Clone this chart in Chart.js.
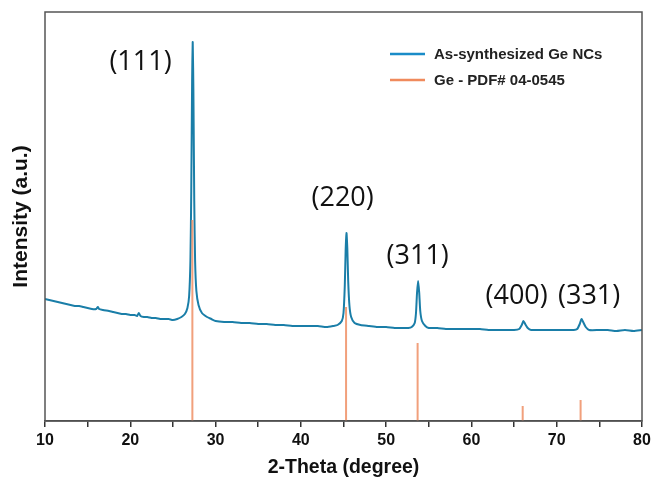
<!DOCTYPE html>
<html>
<head>
<meta charset="utf-8">
<script src="https://cdn.jsdelivr.net/npm/chart.js@4.4.1/dist/chart.umd.min.js"></script>
<style>
  html, body { margin: 0; padding: 0; background: #fff; }
  #wrap { width: 651px; height: 479px; }
</style>
</head>
<body>
<div id="wrap"><canvas id="xrd"></canvas></div>
<script>
// measured pattern (2-theta, intensity a.u.)
const twoTheta = [
  10.0, 10.5, 11.0, 11.5, 12.0, 12.5, 13.0, 13.5, 14.0, 14.5, 15.0, 15.5, 16.0, 16.2, 16.35, 16.8,
  17.5, 18.0, 18.5, 19.0, 19.5, 20.0, 20.5, 20.8, 21.0, 21.2, 21.6, 22.0, 22.5, 23.0, 23.5, 24.0,
  24.5, 25.0, 25.5, 26.0, 26.4, 26.7, 26.9, 27.05, 27.15, 27.25, 27.32, 27.4, 27.5, 27.6, 27.75, 28.0,
  28.4, 29.0, 29.5, 30.0, 31.0, 32.0, 33.0, 34.0, 35.0, 36.0, 37.0, 38.0, 39.0, 40.0, 41.0, 42.0,
  43.0, 43.8, 44.3, 44.8, 45.0, 45.15, 45.25, 45.35, 45.45, 45.55, 45.7, 45.9, 46.3, 47.0, 48.0, 49.0,
  50.0, 51.0, 52.0, 52.6, 53.0, 53.35, 53.5, 53.62, 53.75, 53.88, 54.0, 54.2, 54.6, 55.0, 56.0, 57.0,
  58.0, 59.0, 60.0, 61.0, 62.0, 63.0, 64.0, 65.0, 65.6, 65.9, 66.1, 66.3, 66.6, 67.0, 68.0, 69.0,
  70.0, 71.0, 72.0, 72.4, 72.7, 72.9, 73.1, 73.4, 73.8, 75.0, 76.0, 77.0, 78.0, 79.0, 80.0
];
const intensity = [
  122, 121, 120, 119, 118, 117, 116, 115, 115, 114, 113, 112, 112, 114, 112, 111,
  110, 109, 108, 107, 107, 106, 106, 105, 108, 105, 104, 104, 103, 103, 102, 102,
  102, 101, 102, 104, 107, 113, 125, 160, 230, 340, 379, 330, 220, 160, 130, 116,
  108, 104, 102, 100, 99, 99, 98, 98, 97, 97, 96, 96, 95, 95, 95, 95,
  94, 95, 96, 100, 108, 135, 170, 188, 172, 140, 115, 104, 98, 96, 95, 94,
  94, 93, 93, 93, 94, 98, 108, 128, 140, 128, 110, 100, 95, 93, 93, 92,
  92, 92, 92, 92, 91, 91, 91, 91, 92, 96, 100, 97, 93, 91, 91, 91,
  91, 91, 91, 92, 97, 102, 99, 94, 91, 91, 91, 90, 91, 90, 91
];

// reference card Ge - PDF# 04-0545
const refPeaks = [27.28, 45.30, 53.69, 66.01, 72.80];
const refHeights = [201, 114, 78, 15, 21];

// peak labels (anchored in data coordinates)
const hklLabels = ['(111)', '(220)', '(311)', '(400)', '(331)'];
const hklX = [21.2, 44.9, 53.7, 65.3, 73.8];
const hklY = [359, 223, 165, 125, 125];

const seriesNames = ['As-synthesized Ge NCs', 'Ge - PDF# 04-0545'];

const measured = twoTheta.map((t, i) => ({ x: t, y: intensity[i] }));
const sticks = [];
refPeaks.forEach((p, i) => {
  sticks.push({ x: p, y: 0 }, { x: p, y: refHeights[i] }, { x: p, y: null });
});

const framePlugin = {
  id: 'frame',
  afterDraw(chart) {
    const { ctx, chartArea: a } = chart;
    ctx.save();
    ctx.strokeStyle = '#555';
    ctx.lineWidth = 1.5;
    ctx.strokeRect(a.left, a.top, a.right - a.left, a.bottom - a.top);
    ctx.restore();
  }
};

const hklPlugin = {
  id: 'hkl',
  afterDatasetsDraw(chart) {
    const { ctx, scales } = chart;
    ctx.save();
    ctx.font = '27px "Open Sans"';
    ctx.fillStyle = '#111';
    ctx.textAlign = 'center';
    ctx.textBaseline = 'middle';
    hklLabels.forEach((txt, i) => {
      ctx.fillText(txt, scales.x.getPixelForValue(hklX[i]), scales.y.getPixelForValue(hklY[i]));
    });
    ctx.restore();
  }
};

// legend drawn inside the plot, top right
const insideLegend = {
  id: 'insideLegend',
  afterDatasetsDraw(chart) {
    const { ctx } = chart;
    ctx.save();
    ctx.font = 'bold 15px "Liberation Sans", Arial, sans-serif';
    ctx.textBaseline = 'middle';
    chart.data.datasets.forEach((ds, i) => {
      const y = 54 + i * 26;
      ctx.strokeStyle = ds.legendColor;
      ctx.lineWidth = 2.5;
      ctx.beginPath();
      ctx.moveTo(390, y);
      ctx.lineTo(425, y);
      ctx.stroke();
      ctx.fillStyle = '#222';
      ctx.fillText(ds.label, 434, y + 1);
    });
    ctx.restore();
  }
};

new Chart(document.getElementById('xrd'), {
  type: 'line',
  data: {
    datasets: [
      {
        label: seriesNames[0],
        data: measured,
        borderColor: '#1a7ea8',
        legendColor: '#1a8cc8',
        borderWidth: 2,
        pointRadius: 0,
        tension: 0.2,
        order: 2
      },
      {
        label: seriesNames[1],
        data: sticks,
        borderColor: 'rgba(240,150,110,0.9)',
        legendColor: '#f08a5c',
        borderWidth: 2,
        pointRadius: 0,
        spanGaps: false,
        order: 1
      }
    ]
  },
  options: {
    responsive: true,
    maintainAspectRatio: false,
    animation: false,
    layout: { padding: { top: 12, right: 9, left: 0, bottom: 0 } },
    plugins: {
      legend: { display: false },
      tooltip: { enabled: false }
    },
    scales: {
      x: {
        type: 'linear',
        min: 10,
        max: 80,
        ticks: {
          stepSize: 5,
          autoSkip: false,
          maxRotation: 0,
          padding: 4,
          color: '#111',
          font: { family: '"Liberation Sans", Arial, sans-serif', size: 16, weight: 'bold' },
          callback: (v) => (v % 10 === 0 ? v : '')
        },
        grid: { drawOnChartArea: false, drawTicks: true, tickLength: 6, color: '#333', lineWidth: 1.5 },
        border: { display: true, color: '#444', width: 1.5 },
        title: {
          display: true,
          text: '2-Theta (degree)',
          color: '#111',
          padding: { top: 0, bottom: 0 },
          font: { family: '"Liberation Sans", Arial, sans-serif', size: 19.5, weight: 'bold' }
        },
        afterFit(scale) {
          scale.height = 58;
          scale.paddingRight = 0;
        }
      },
      y: {
        min: 0,
        max: 409,
        ticks: { display: false },
        grid: { display: false },
        border: { display: false },
        title: {
          display: true,
          text: 'Intensity (a.u.)',
          color: '#111',
          padding: { top: 9, bottom: 0 },
          font: { family: '"Liberation Sans", Arial, sans-serif', size: 21, weight: 'bold' }
        },
        afterFit(scale) { scale.width = 45; }
      }
    }
  },
  plugins: [framePlugin, hklPlugin, insideLegend]
});
</script>
</body>
</html>
